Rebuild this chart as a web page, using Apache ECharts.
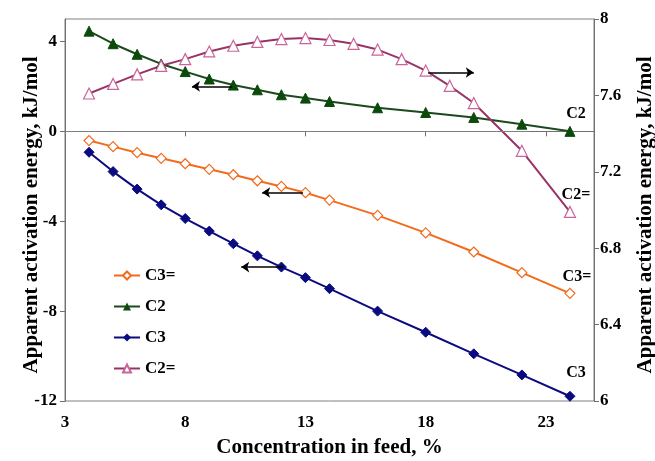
<!DOCTYPE html>
<html><head><meta charset="utf-8">
<script src="https://cdn.jsdelivr.net/npm/echarts@6/dist/echarts.min.js"></script>
<style>html,body{margin:0;padding:0;background:#fff}#c{width:655px;height:461px}</style>
</head><body><div id="c"></div>
<script>
const xMain = [4,5,6,7,8,9,10,11,12,13,14,16,18,20,22,24];
const xC2e = [4,5,6,7,8,9,10,11,12,13,14,15,16,17,18,19,20,22,24];
const c3e = [-0.41,-0.68,-0.95,-1.2,-1.44,-1.69,-1.93,-2.2,-2.45,-2.73,-3.06,-3.74,-4.52,-5.37,-6.29,-7.21];
const c2 = [4.46,3.9,3.43,3.0,2.66,2.33,2.06,1.85,1.63,1.48,1.33,1.05,0.84,0.62,0.32,0.0];
const c3 = [-0.93,-1.79,-2.57,-3.27,-3.88,-4.44,-5.0,-5.54,-6.04,-6.51,-7.0,-8.0,-8.94,-9.9,-10.84,-11.79];
const c2e = [7.61,7.66,7.71,7.755,7.79,7.83,7.86,7.88,7.895,7.9,7.89,7.87,7.84,7.79,7.73,7.65,7.56,7.31,6.99];
const names = ['C3=','C2','C3','C2='];

const font = 'Liberation Serif';
function mk(xs, ys, name, ofs) {
  return ys.map((v,i)=>{
    const d = {value:[xs[i], v]};
    if (i === ys.length-1) d.label = {show:true, formatter:name, position:'top', offset:ofs,
      fontFamily:font, fontWeight:'bold', fontSize:16, color:'#000'};
    return d;
  });
}
const titleStyle = {fontFamily:font, fontWeight:'bold', fontSize:21, color:'#000'};
const tickFont = {fontFamily:font, fontWeight:'bold', fontSize:17, color:'#000'};
const arrowStyle = {color:'#000', width:1.5, type:'solid'};
const chart = echarts.init(document.getElementById('c'));
chart.setOption({
  animation:false,
  grid:{left:65, right:61, top:19, bottom:60, show:true, borderColor:'#808080', borderWidth:1,
    containLabel:false, outerBoundsMode:'none'},
  legend:{orient:'vertical', left:108, top:262, itemWidth:26, itemHeight:10, itemGap:14,
    data:names, textStyle:{fontFamily:font, fontWeight:'bold', fontSize:17, color:'#000'}},
  xAxis:{type:'value', min:3, max:25, interval:5,
    name:'Concentration in feed, %', nameLocation:'middle', nameGap:36, nameMoveOverlap:false,
    nameTextStyle:titleStyle,
    axisLine:{lineStyle:{color:'#707070'}}, axisTick:{length:5, lineStyle:{color:'#707070'}},
    axisLabel:Object.assign({showMaxLabel:false, margin:13}, tickFont),
    splitLine:{show:false}},
  yAxis:[
    {type:'value', min:-12, max:5, interval:4, position:'left',
     name:'Apparent activation energy, kJ/mol', nameLocation:'middle', nameRotate:90, nameGap:23, nameMoveOverlap:false,
     nameTextStyle:Object.assign({padding:[0,10,0,0]}, titleStyle),
     axisLine:{show:true, lineStyle:{color:'#707070'}}, axisTick:{show:true, length:5, lineStyle:{color:'#707070'}},
     axisLabel:Object.assign({showMaxLabel:false, margin:8}, tickFont),
     splitLine:{show:false}},
    {type:'value', min:6, max:8, interval:0.4, position:'right',
     name:'Apparent activation energy, kJ/mol', nameLocation:'middle', nameRotate:90, nameGap:41, nameMoveOverlap:false,
     nameTextStyle:Object.assign({padding:[0,10,0,0]}, titleStyle),
     axisLine:{show:true, lineStyle:{color:'#707070'}}, axisTick:{show:true, length:5, lineStyle:{color:'#707070'}},
     axisLabel:Object.assign({margin:6, formatter:v=>String(Math.round(v*10)/10)}, tickFont),
     splitLine:{show:false}}
  ],
  series:[
    {name:'C3=', type:'line', yAxisIndex:0, data:mk(xMain,c3e,'C3=',[7,2]),
     symbol:'diamond', symbolSize:10, showAllSymbol:true,
     lineStyle:{color:'#f26b1d', width:2}, itemStyle:{color:'#fff', borderColor:'#f26b1d', borderWidth:1.2},
     markLine:{silent:true, symbol:['none','arrow'], symbolSize:8, label:{show:false}, lineStyle:arrowStyle,
       data:[[{coord:[12.9,-2.72]},{coord:[11.2,-2.72]}]]}},
    {name:'C2', type:'line', yAxisIndex:0, data:mk(xMain,c2,'C2',[6,1]),
     symbol:'triangle', symbolSize:10, showAllSymbol:true,
     lineStyle:{color:'#1d4a1d', width:2}, itemStyle:{color:'#0c4a0c', borderColor:'#0c4a0c'},
     markLine:{silent:true, symbol:['none','arrow'], symbolSize:8, label:{show:false}, lineStyle:arrowStyle,
       data:[[{coord:[9.95,2.0]},{coord:[8.28,2.0]}],
             [{coord:[3,0], symbol:'none', lineStyle:{color:'#808080', width:1}},{coord:[22.3,0], symbol:'none'}]]}},
    {name:'C3', type:'line', yAxisIndex:0, data:mk(xMain,c3,'C3',[6,-5]),
     symbol:'diamond', symbolSize:10, showAllSymbol:true,
     lineStyle:{color:'#0b0b80', width:2}, itemStyle:{color:'#0b0b80', borderColor:'#0b0b80'},
     markLine:{silent:true, symbol:['none','arrow'], symbolSize:8, label:{show:false}, lineStyle:arrowStyle,
       data:[[{coord:[12.07,-6.04]},{coord:[10.33,-6.04]}]]}},
    {name:'C2=', type:'line', yAxisIndex:1, data:mk(xC2e,c2e,'C2=',[6,2]),
     symbol:'triangle', symbolSize:11, showAllSymbol:true,
     lineStyle:{color:'#993366', width:2}, itemStyle:{color:'#fff', borderColor:'#c9649a', borderWidth:1.2},
     markLine:{silent:true, symbol:['none','arrow'], symbolSize:8, label:{show:false}, lineStyle:arrowStyle,
       data:[[{coord:[18.1,7.72]},{coord:[20.0,7.72]}]]}}
  ]
});
</script></body></html>
